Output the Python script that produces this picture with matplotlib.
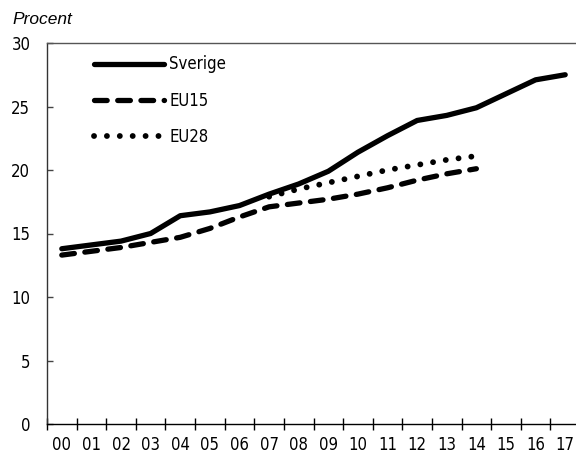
import matplotlib
matplotlib.use('Agg')
import matplotlib.pyplot as plt
from matplotlib import ticker

plt.rcParams['font.family'] = ['DejaVu Sans']
plt.rcParams['font.stretch'] = 'condensed'

# data (andel i procent)
years = ['00', '01', '02', '03', '04', '05', '06', '07', '08', '09',
         '10', '11', '12', '13', '14', '15', '16', '17']
sverige = [13.8, 14.1, 14.4, 15.0, 16.4, 16.7, 17.2, 18.1, 18.9, 19.9,
           21.4, 22.7, 23.9, 24.3, 24.9, 26.0, 27.1, 27.5]
eu15 = [13.3, 13.6, 13.9, 14.3, 14.7, 15.4, 16.3, 17.1, 17.4, 17.7,
        18.1, 18.6, 19.2, 19.7, 20.1]
eu28_years = years[7:15]
eu28 = [17.9, 18.5, 19.0, 19.5, 20.0, 20.4, 20.8, 21.1]

fig = plt.figure(figsize=(5.76, 4.55), dpi=100)
ax = fig.add_axes([47/576, 31/455, 533/576, 381/455])

xs = list(range(len(years)))
ax.plot(xs, sverige, color='black', lw=3.8, solid_capstyle='round',
        solid_joinstyle='round', label='Sverige')
ax.plot(xs[:len(eu15)], eu15, color='black', lw=3.8, dashes=(2.4, 2.0),
        dash_capstyle='round', label='EU15')
ax.plot([years.index(y) for y in eu28_years], eu28, color='black', lw=4.2,
        dashes=(0.01, 2.2), dash_capstyle='round', label='EU28')

ax.set_xlim(-0.5, len(years) - 0.5)
ax.set_ylim(0, 30)

# x: labels at centres, tick marks between categories
ax.set_xticks(xs)
ax.set_xticklabels(years)
ax.xaxis.set_minor_locator(ticker.FixedLocator([i - 0.5 for i in range(len(years) + 1)]))
ax.tick_params(axis='x', which='major', length=0, pad=9, labelsize=12)
ax.tick_params(axis='x', which='minor', direction='inout', length=8.5, width=1)

ax.set_yticks([0, 5, 10, 15, 20, 25, 30])
ax.tick_params(axis='y', direction='in', length=4, width=1, pad=12,
               labelsize=12, color='#444444')

ax.spines['right'].set_visible(False)
ax.spines['top'].set_color('#555555')
ax.spines['left'].set_color('#333333')
ax.spines['bottom'].set_color('black')
for s in ax.spines.values():
    s.set_linewidth(1)

fig.text(12/576, 1 - 20/455, 'Procent', fontsize=12.5, style='italic',
         family='Liberation Sans', stretch='normal', va='center', ha='left')

ax.legend(loc='upper left', bbox_to_anchor=(0.076, 0.985), frameon=False,
          fontsize=12, handlelength=4.2, handletextpad=0.3,
          labelspacing=1.1, borderaxespad=0)

fig.savefig('out.png', dpi=100)
